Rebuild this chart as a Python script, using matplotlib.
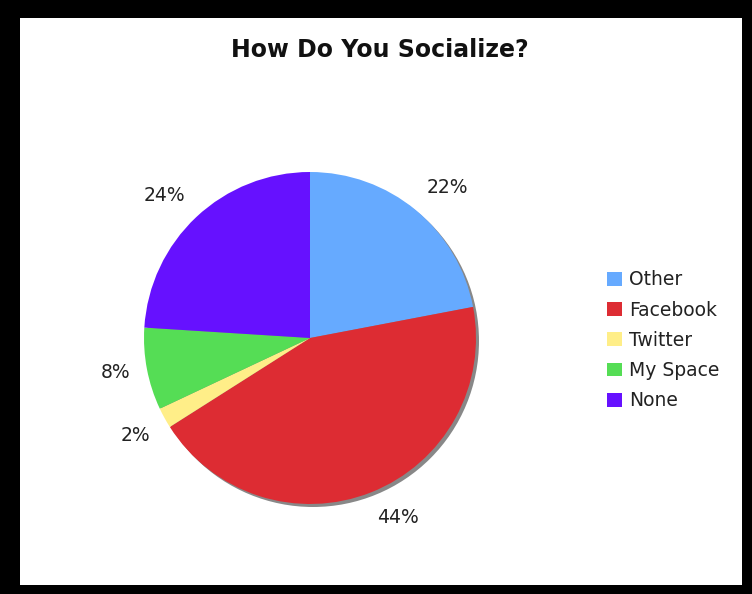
import numpy as np
import matplotlib
matplotlib.use('Agg')
import matplotlib.pyplot as plt
from matplotlib.patches import Rectangle, Circle

# data
labels = ['Other', 'Facebook', 'Twitter', 'My Space', 'None']
shares = [22, 44, 2, 8, 24]
colors = ['#66aaff', '#dd2c33', '#ffee88', '#55dd55', '#6611ff']

# pixel layout of the reference
W, H = 752, 594
cx, cy, R = 310, 338, 166

fig = plt.figure(figsize=(W / 100, H / 100), dpi=100)
fig.patch.set_facecolor('black')
# white panel inside the black frame
fig.patches.append(Rectangle((20 / W, (H - 585) / H), 722 / W, 567 / H,
	transform=fig.transFigure, facecolor='white', edgecolor='none', zorder=-1))

ax = fig.add_axes([0, 0, 1, 1])
ax.set_facecolor('none')

# drop shadow
off = 3 / R
ax.add_patch(Circle((off, -off), 1.0, facecolor='#888888', edgecolor='none', zorder=0))

wedges, texts, autotexts = ax.pie(shares, colors=colors, startangle=90, counterclock=False,
	autopct='%d%%', pctdistance=1.2, radius=1.0, frame=True,
	textprops={'fontsize': 13.5, 'color': '#222222'})
for w in wedges:
	w.set_zorder(1)

# anchor labels at the text corner nearest the pie, like the original
for w, t in zip(wedges, autotexts):
	ang = np.deg2rad((w.theta1 + w.theta2) / 2)
	x, y = 1.1 * np.cos(ang), 1.1 * np.sin(ang)
	t.set_position((x, y))
	t.set_ha('left' if x > 0 else 'right')
	if abs(y) < 0.3:
		t.set_va('center')
	else:
		t.set_va('bottom' if y > 0 else 'top')

ax.set_xlim(-cx / R, (W - cx) / R)
ax.set_ylim(-(H - cy) / R, cy / R)
ax.axis('off')

fig.text(380 / W, 1 - 50 / H, 'How Do You Socialize?', ha='center', va='center',
	fontsize=17, fontweight='bold', color='#111111')

# legend
leg = ax.legend(wedges, labels, loc='upper left', bbox_to_anchor=(598 / W, 1 - 261 / H),
	bbox_transform=fig.transFigure, frameon=False, fontsize=13.5, handlelength=0.78,
	handleheight=0.75, handletextpad=0.38, labelspacing=0.6, borderpad=0)
for t in leg.get_texts():
	t.set_color('#222222')

fig.savefig('out.png', dpi=100, facecolor=fig.get_facecolor())
